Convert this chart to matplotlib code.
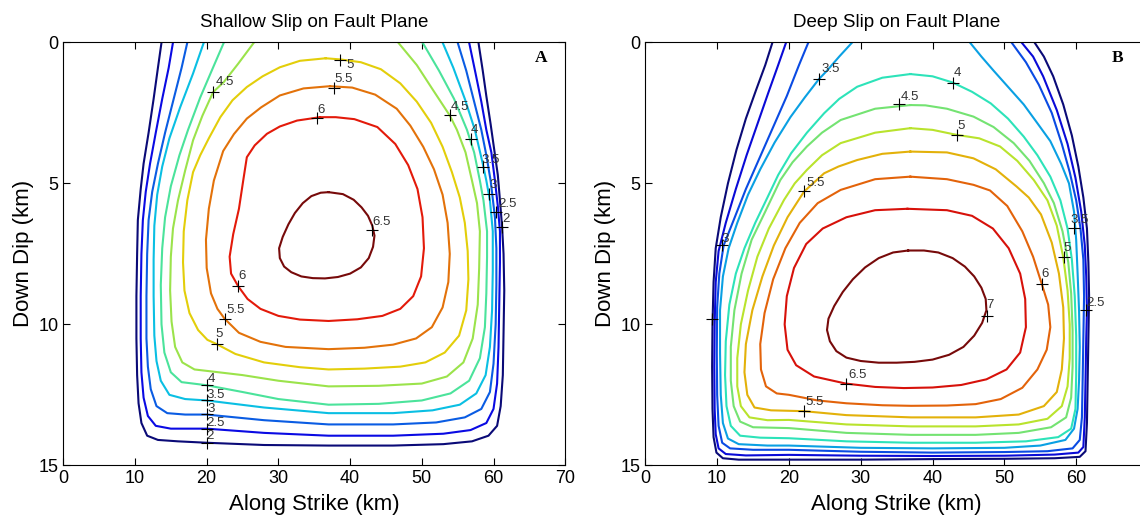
import numpy as np
import matplotlib.pyplot as plt
from matplotlib import colors

plt.rcParams['font.family'] = ['Liberation Sans', 'DejaVu Sans']

# ---------------- panel A : shallow slip, contour lines (x km, y km)
a_levels = [2, 2.5, 3, 3.5, 4, 4.5, 5, 5.5, 6, 6.5]

a_20 = [(13.7,0),(13.2,0.9),(12.6,2.0),(11.9,3.2),(11.2,4.3),(10.8,5.2),(10.4,6.3),(10.3,7.5),(10.2,9.0),
        (10.2,10.5),(10.3,11.8),(10.5,12.8),(10.9,13.5),(11.7,13.95),(13.2,14.1),(16,14.15),(20,14.2),(28,14.28),
        (37,14.3),(46,14.3),(53,14.25),(57,14.15),(59.3,13.95),(60.5,13.6),(61.0,12.9),(61.3,11.8),(61.4,10.3),
        (61.5,8.8),(61.4,7.5),(61.2,6.55),(60.9,5.6),(60.6,4.7),(60.1,3.8),(59.6,2.9),(59.0,1.9),(58.5,1.0),(57.9,0)]
a_25 = [(15.3,0),(14.7,0.9),(13.8,2.0),(12.9,3.2),(12.1,4.3),(11.5,5.3),(11.1,6.3),(10.9,7.5),(10.8,9.0),
        (10.8,10.5),(10.9,11.7),(11.2,12.6),(11.8,13.25),(12.9,13.6),(15,13.7),(20,13.7),(28,13.85),(37,13.95),
        (46,13.95),(53,13.88),(56.8,13.75),(59.0,13.5),(60.0,13.0),(60.5,12.1),(60.7,10.8),(60.8,9.3),(60.9,7.8),
        (60.9,6.7),(60.6,5.8),(60.2,4.9),(59.7,3.9),(59.0,3.1),(58.3,2.1),(57.5,1.1),(56.6,0)]
a_30 = [(17.3,0),(16.5,0.9),(15.4,2.0),(14.2,3.2),(13.2,4.3),(12.4,5.3),(11.9,6.3),(11.7,7.5),(11.6,9.0),
        (11.6,10.5),(11.8,11.5),(12.2,12.3),(13.0,12.9),(14.5,13.15),(17,13.2),(20,13.2),(28,13.4),(37,13.55),
        (46,13.55),(52,13.48),(56,13.3),(58.3,13.0),(59.5,12.4),(60.0,11.4),(60.3,10.0),(60.4,8.6),(60.4,7.3),
        (60.2,6.2),(59.6,4.9),(59.0,4.0),(58.3,3.1),(57.3,2.1),(56.2,1.0),(55.0,0)]
a_35 = [(19.6,0),(18.1,1.1),(16.3,2.3),(14.8,3.4),(13.8,4.4),(13.1,5.4),(12.7,6.5),(12.6,7.7),(12.6,9.0),
        (12.7,10.4),(13.0,11.3),(13.6,12.0),(14.8,12.5),(17,12.65),(20,12.7),(28,12.95),(37,13.15),(46,13.15),
        (51.5,13.05),(55.3,12.85),(57.6,12.45),(58.9,11.8),(59.5,10.8),(59.8,9.5),(59.9,8.1),(59.9,6.7),
        (59.5,5.6),(59.0,4.9),(58.5,4.3),(57.4,3.1),(56.0,2.0),(54.4,0.9),(52.9,0)]
a_40 = [(22.4,0),(20.7,1.0),(19.1,1.95),(17.4,3.1),(16.2,4.0),(15.0,5.1),(14.2,6.2),(13.8,7.3),(13.6,8.6),
        (13.7,10.0),(14.1,11.0),(15.0,11.7),(16.5,12.05),(20,12.16),(25,12.4),(30,12.65),(37,12.85),(44,12.82),
        (50,12.7),(54,12.45),(56.6,12.0),(58.1,11.2),(58.8,10.1),(59.0,8.9),(59.1,7.6),(59.1,6.7),(58.6,5.6),
        (58.1,4.9),(57.3,3.9),(56.3,3.1),(54.5,2.0),(52.4,1.0),(50.1,0)]
a_45 = [(26.6,0),(24.4,0.75),(22.4,1.4),(20.9,1.76),(19.4,2.6),(18.1,3.47),(17.0,4.54),(16.0,5.6),(15.3,6.6),
        (15.0,7.6),(14.9,8.8),(15.1,9.9),(15.6,10.8),(16.6,11.35),(18.3,11.6),(20,11.65),(25,11.8),(30,12.0),
        (37,12.2),(44,12.18),(50,12.1),(53.5,11.85),(55.8,11.35),(57.1,10.5),(57.8,9.3),(58.0,8.0),(58.1,6.7),
        (57.7,5.7),(57.0,4.9),(56.1,3.9),(54.9,3.1),(53.9,2.59),(51.6,1.7),(49.3,0.8),(46.7,0)]
a_50 = [(36.6,0.56),(33,0.65),(30.2,0.88),(27.8,1.2),(25.6,1.58),(23.6,2.05),(21.9,2.65),(20.3,3.4),(19.1,4.0),
        (18.1,4.6),(17.3,5.6),(16.8,6.7),(16.7,7.8),(16.9,8.8),(17.6,9.6),(18.8,10.2),(20.1,10.55),(21.4,10.7),
        (24,11.05),(28,11.35),(33,11.52),(37,11.6),(42,11.57),(47,11.5),(50.5,11.35),(53.2,11.0),(55.2,10.4),
        (56.2,9.5),(56.5,8.4),(56.4,7.4),(56.0,6.4),(55.3,5.5),(54.2,4.6),(52.9,3.7),(51.3,2.85),(49.3,2.1),
        (47,1.45),(44.3,0.95),(41.5,0.7),(38.6,0.6),(36.6,0.56)]
a_55 = [(37.2,1.55),(33.5,1.63),(30.2,1.88),(27.6,2.3),(25.6,2.7),(23.8,3.25),(22.3,3.85),(21.0,4.9),(20.3,5.9),
        (19.9,7.0),(20.0,8.0),(20.6,8.9),(21.5,9.45),(22.5,9.8),(24.5,10.3),(27.5,10.62),(31,10.8),(37,10.88),
        (42,10.83),(46,10.72),(49.2,10.5),(51.4,10.1),(52.9,9.4),(53.7,8.5),(53.9,7.5),(53.6,6.4),(52.9,5.4),
        (51.7,4.5),(50.2,3.7),(48.4,2.95),(46.5,2.35),(43.5,1.85),(40.3,1.6),(37.2,1.55)]
a_60 = [(35.8,2.65),(32.6,2.77),(30.2,2.98),(28.4,3.24),(26.7,3.65),(25.6,4.07),(25.1,4.89),(24.5,5.9),
        (23.7,6.8),(23.2,7.6),(23.4,8.2),(24.4,8.65),(25.7,9.1),(27.5,9.45),(30,9.7),(33,9.83),(37,9.88),
        (41,9.82),(44.5,9.7),(47,9.45),(48.8,9.0),(49.9,8.3),(50.3,7.3),(50.1,6.2),(49.4,5.2),(48.1,4.35),
        (46.3,3.6),(43.8,3.0),(40.6,2.72),(38,2.65),(35.8,2.65)]
a_65 = [(37.0,5.31),(35.9,5.33),(34.6,5.45),(33.4,5.7),(32.3,6.05),(31.4,6.45),(30.6,6.9),(30.1,7.3),(30.2,7.65),
        (30.8,7.95),(31.8,8.15),(33.2,8.3),(34.8,8.36),(36.5,8.37),(38.3,8.32),(40.0,8.2),(41.5,7.98),(42.6,7.65),
        (43.2,7.25),(43.4,6.85),(43.1,6.5),(42.5,6.15),(41.6,5.85),(40.5,5.58),(39.0,5.38),(37.0,5.31)]
a_lines = [a_20, a_25, a_30, a_35, a_40, a_45, a_50, a_55, a_60, a_65]

a_lab_text = ['4.5', '5', '5.5', '6', '6.5', '6', '5.5', '5', '4', '3.5', '3', '2.5', '2',
              '4.5', '4', '3.5', '3', '2.5', '2']
a_lab_cross = [(20.9,1.75),(38.6,0.63),(37.7,1.61),(35.4,2.67),(43.0,6.64),(24.4,8.65),(22.5,9.8),(21.4,10.69),
               (20.0,12.16),(20.0,12.7),(20.0,13.17),(20.0,13.7),(20.0,14.2),
               (53.9,2.59),(56.8,3.42),(58.5,4.42),(59.4,5.37),(60.4,6.02),(61.2,6.55)]
a_lab_pos = [(22.5,1.39),(40.0,0.80),(39.1,1.28),(36.0,2.41),(44.4,6.37),(25.0,8.3),(24.0,9.48),(21.8,10.35),
             (20.7,11.93),(21.2,12.52),(20.6,13.0),(21.2,13.5),(20.4,13.97),
             (55.3,2.29),(57.3,3.12),(59.6,4.18),(60.0,5.07),(61.9,5.72),(61.7,6.25)]

# ---------------- panel B : deep slip
b_levels = [2, 2.5, 3, 3.5, 4, 4.5, 5, 5.5, 6, 6.5, 7]

b_20 = [(17.7,0),(16.7,0.8),(15.4,1.7),(14.0,2.7),(12.7,3.8),(11.5,5.0),(10.5,6.2),(9.8,7.3),(9.5,8.5),
        (9.35,10),(9.3,11.5),(9.35,13),(9.5,14.0),(9.9,14.55),(10.8,14.75),(13,14.8),(20,14.8),(30,14.8),
        (40,14.78),(50,14.77),(57,14.75),(60.5,14.7),(61.3,14.5),(61.5,13.5),(61.6,12),(61.7,10.5),(61.8,9),
        (61.7,7.8),(61.5,6.6),(61.0,5.5),(60.3,4.4),(59.4,3.3),(58.2,2.2),(56.8,1.2),(55.5,0.5),(54.2,0)]
b_25 = [(19.6,0),(18.5,0.8),(17.1,1.8),(15.6,2.9),(14.1,4.0),(12.6,5.2),(11.2,6.4),(10.2,7.4),(9.8,8.5),
        (9.65,10),(9.6,11.5),(9.65,13),(9.8,13.9),(10.2,14.4),(11.2,14.6),(14,14.65),(20,14.63),(30,14.66),
        (40,14.67),(50,14.66),(57,14.62),(60.3,14.55),(61.0,14.35),(61.2,13.3),(61.3,12),(61.4,10.5),
        (61.5,9.49),(61.4,8.3),(61.2,7.2),(60.7,6.0),(59.9,4.8),(58.8,3.6),(57.3,2.4),(55.4,1.2),(54.0,0.5),(52.4,0)]
b_30 = [(22.7,0),(21.4,0.8),(19.7,1.9),(17.8,3.0),(15.9,4.1),(14.0,5.2),(12.3,6.3),(10.9,7.2),(10.3,8.2),
        (10.0,9.4),(9.95,11),(10.0,12.5),(10.2,13.6),(10.7,14.2),(11.8,14.4),(15,14.45),(20,14.45),(30,14.52),
        (40,14.55),(50,14.53),(56,14.5),(59.5,14.4),(60.5,14.1),(60.8,13.3),(60.9,12),(61.0,10.5),(61.1,9.0),
        (61.0,7.7),(60.6,6.6),(60.0,5.6),(59.1,4.6),(58.0,3.6),(56.6,2.5),(54.8,1.5),(53.0,0.7),(51.0,0)]
b_35 = [(28.8,0),(27.0,0.5),(25.3,1.0),(24.2,1.29),(22.2,1.95),(20.2,2.65),(18.0,3.55),(16.0,4.5),(14.3,5.4),
        (12.8,6.4),(11.6,7.3),(10.8,8.3),(10.4,9.5),(10.4,11),(10.5,12.5),(10.8,13.5),(11.5,14.05),(13,14.25),
        (17,14.3),(20,14.3),(30,14.38),(40,14.4),(50,14.38),(55,14.3),(58.5,14.1),(59.7,13.7),(60.2,13.0),
        (60.4,12),(60.5,10.8),(60.4,9.5),(60.2,8.2),(60.0,7.0),(59.7,6.0),(59.0,5.0),(57.9,4.3),(56.4,3.5),
        (54.7,2.9),(52.7,2.2),(50.6,1.6),(48.5,1.0),(46.8,0.5),(45.2,0)]
b_40 = [(36.9,1.12),(33,1.25),(29.5,1.57),(27,2.0),(24.9,2.51),(22.5,3.2),(20.3,3.93),(18.5,4.7),(17.0,5.5),
        (15.3,6.4),(13.8,7.3),(12.6,8.2),(11.7,9.3),(11.2,10.6),(11.1,11.8),(11.3,12.9),(11.9,13.6),(13.2,13.95),
        (16,14.02),(20,14.04),(28,14.15),(37,14.2),(46,14.2),(53,14.15),(57.5,14.0),(59.3,13.7),(59.9,13.0),
        (60.0,11.8),(60.0,10.4),(59.8,9.0),(59.4,7.7),(58.8,6.6),(57.8,5.6),(56.4,4.76),(54.6,4.0),(52.7,3.34),
        (50.5,2.7),(48.1,2.16),(45.5,1.75),(42.8,1.42),(40,1.2),(36.9,1.12)]
b_45 = [(36.9,2.22),(32,2.35),(27.2,2.75),(24.6,3.2),(22.5,3.69),(20.5,4.25),(18.8,4.88),(16.7,6.0),(14.8,7.0),
        (13.4,8.2),(12.4,9.5),(11.9,10.8),(11.9,12.0),(12.3,12.9),(13.2,13.45),(15,13.65),(20,13.68),(28,13.85),
        (37,13.92),(46,13.92),(52,13.85),(56.5,13.65),(58.6,13.3),(59.3,12.6),(59.5,11.5),(59.5,10.2),(59.3,8.9),
        (58.9,7.8),(58.1,6.7),(56.9,5.7),(55.5,4.99),(53.5,4.2),(51.3,3.57),(48.5,3.0),(45.7,2.63),(42,2.35),
        (39,2.23),(36.9,2.22)]
b_50 = [(36.9,3.04),(32,3.2),(27.2,3.57),(24.6,4.0),(22.5,4.52),(20.8,5.0),(19.3,5.59),(17.2,6.6),(15.6,7.6),
        (14.3,8.8),(13.3,10),(12.8,11.2),(12.8,12.2),(13.3,12.9),(14.5,13.3),(17,13.4),(20,13.39),(28,13.55),
        (37,13.62),(46,13.62),(52,13.55),(56,13.35),(58.0,12.9),(58.8,12.2),(59.1,11.2),(59.1,10),(58.8,8.8),
        (58.2,7.62),(57.3,6.5),(56.0,5.6),(54.1,4.88),(51.8,4.2),(49.4,3.69),(46.5,3.4),(43.4,3.28),(40,3.1),
        (36.9,3.04)]
b_55 = [(36.9,3.87),(33,3.95),(29.5,4.17),(26.9,4.4),(24.9,4.64),(22.1,5.29),(19.8,6.2),(17.9,7.2),(16.3,8.3),
        (14.9,9.5),(14.0,10.7),(13.8,11.7),(14.2,12.5),(15.2,12.95),(17.5,13.05),(22.1,13.08),(28,13.22),
        (37,13.3),(46,13.3),(52,13.2),(55.5,12.9),(57.3,12.4),(58.0,11.6),(58.3,10.5),(58.2,9.4),(57.6,8.2),
        (56.6,7.1),(55.1,6.1),(53.4,5.5),(51.7,5.11),(48.8,4.5),(45.7,4.11),(42,3.9),(36.9,3.87)]
b_60 = [(36.9,4.76),(32,4.85),(27.2,5.23),(24,5.7),(21.5,6.4),(19.5,7.3),(17.8,8.4),(16.6,9.6),(16.0,10.7),
        (16.1,11.6),(16.8,12.2),(18.3,12.45),(20,12.5),(24,12.7),(28,12.8),(33,12.87),(37,12.89),(42,12.88),
        (46,12.83),(49.5,12.65),(52.5,12.25),(54.6,11.6),(55.9,10.9),(56.4,10.1),(56.1,9.3),(55.2,8.56),
        (54.0,7.6),(52.5,6.7),(50.4,5.8),(48,5.25),(45.7,5.05),(42,4.85),(36.9,4.76)]
b_65 = [(36.5,5.9),(32,5.95),(28,6.2),(24.7,6.6),(22.4,7.15),(20.7,8.0),(19.7,9.0),(19.4,10.0),(19.8,10.9),
        (21.0,11.45),(23.5,11.85),(27.9,12.1),(32,12.22),(36,12.26),(40,12.24),(44,12.15),(47.5,11.95),
        (50.3,11.6),(52.2,11.0),(53.0,10.1),(52.9,9.1),(52.2,8.2),(50.6,7.3),(48.4,6.6),(45.5,6.15),(42,5.95),
        (36.5,5.9)]
b_70 = [(36.6,7.38),(34.5,7.45),(32.5,7.65),(30.6,7.98),(28.9,8.4),(27.5,8.85),(26.3,9.35),(25.5,9.8),
        (25.3,10.2),(25.7,10.6),(26.6,10.95),(28.0,11.18),(30,11.3),(32.5,11.36),(35,11.36),(37.5,11.33),
        (40,11.25),(42.3,11.08),(44.3,10.8),(45.8,10.4),(46.9,9.95),(47.5,9.5),(47.4,9.1),(46.8,8.7),
        (45.8,8.3),(44.5,7.95),(42.8,7.65),(40.8,7.45),(38.8,7.38),(36.6,7.38)]
b_lines = [b_20, b_25, b_30, b_35, b_40, b_45, b_50, b_55, b_60, b_65, b_70]

b_lab_text = ['3.5', '4', '4.5', '5', '5.5', '3', '', '6.5', '5.5', '7', '6', '5', '3.5', '2.5']
b_lab_cross = [(24.2,1.29),(42.8,1.42),(35.3,2.19),(43.4,3.28),(22.1,5.28),(10.7,7.18),(9.3,9.82),
               (27.9,12.1),(22.1,13.07),(47.6,9.7),(55.2,8.56),(58.3,7.62),(59.7,6.57),(61.4,9.49)]
b_lab_pos = [(25.8,0.95),(43.4,1.07),(36.9,1.92),(44.0,2.96),(23.7,4.97),(11.1,6.98),(9.3,9.82),
             (29.5,11.79),(23.6,12.76),(48.0,9.33),(55.6,8.21),(58.7,7.3),(60.5,6.29),(62.7,9.23)]


def line_colour(cmap, norm, lev):
    # jet, toned down a little like the scanned original
    r, g, b, _ = cmap(norm(lev))
    return (r * 0.85 + 0.04, g * 0.85 + 0.04, b * 0.85 + 0.04)


def draw_panel(ax, levels, lines, lab_text, lab_cross, lab_pos, title, letter, xticks):
    cmap = plt.get_cmap('jet')
    norm = colors.Normalize(min(levels), max(levels))
    for lev, pts in zip(levels, lines):
        p = np.array(pts)
        ax.plot(p[:, 0], p[:, 1], color=line_colour(cmap, norm, lev), lw=1.5,
                solid_joinstyle='round')
    for s, (cx, cy), (tx, ty) in zip(lab_text, lab_cross, lab_pos):
        ax.plot(cx, cy, '+', color='k', ms=9, mew=0.8)
        if s:
            ax.text(tx, ty, s, fontsize=9.5, color='#333333', ha='center', va='center')
    ax.text(letter[1], letter[2], letter[0], family='Liberation Serif', weight='bold',
            fontsize=12.5, ha='center', va='center')
    ax.set_xlim(0, 70)
    ax.set_ylim(15, 0)
    ax.set_xticks(xticks)
    ax.set_yticks([0, 5, 10, 15])
    ax.tick_params(direction='in', top=True, right=True, labelsize=13, length=5, width=0.8)
    for sp in ax.spines.values():
        sp.set_linewidth(0.8)
    ax.set_xlabel('Along Strike (km)', fontsize=16, labelpad=5)
    ax.set_ylabel('Down Dip (km)', fontsize=16, labelpad=3)
    ax.set_title(title, fontsize=13.5, pad=11)


fig = plt.figure(figsize=(11.4, 5.2), dpi=100)
ax1 = fig.add_axes([0.0555, 0.1052, 0.4403, 0.8131])
ax2 = fig.add_axes([0.5661, 0.1052, 0.4409, 0.8131])

draw_panel(ax1, a_levels, a_lines, a_lab_text, a_lab_cross, a_lab_pos,
           'Shallow Slip on Fault Plane', ('A', 66.6, 0.55), range(0, 71, 10))
draw_panel(ax2, b_levels, b_lines, b_lab_text, b_lab_cross, b_lab_pos,
           'Deep Slip on Fault Plane', ('B', 65.7, 0.55), range(0, 61, 10))

fig.savefig('out.png', dpi=100)
